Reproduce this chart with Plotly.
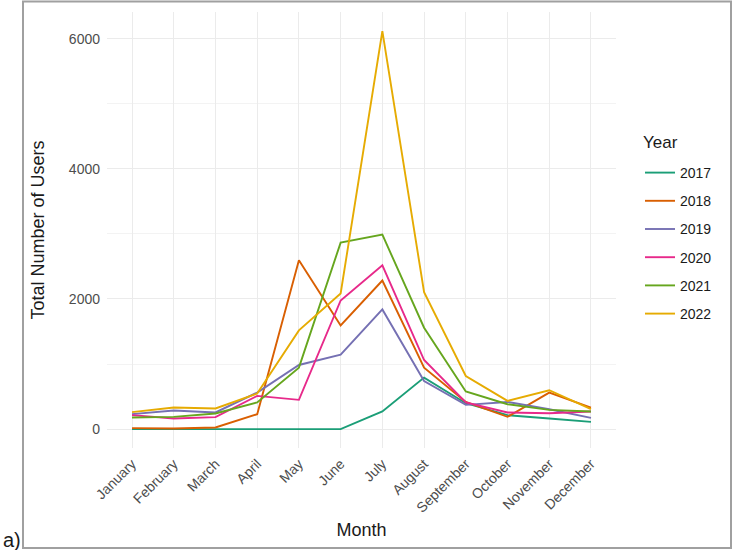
import plotly.graph_objects as go

months = ["January", "February", "March", "April", "May", "June", "July",
          "August", "September", "October", "November", "December"]
years = ["2017", "2018", "2019", "2020", "2021", "2022"]

users_2017 = [0, 0, 0, 0, 0, 0, 271, 792, 398, 215, 164, 112]
users_2018 = [15, 10, 26, 230, 2595, 1594, 2284, 945, 418, 189, 562, 332]
users_2019 = [230, 286, 256, 562, 986, 1145, 1839, 740, 373, 418, 306, 174]
users_2020 = [215, 164, 184, 511, 450, 1977, 2518, 1062, 409, 256, 245, 271]
users_2021 = [179, 189, 240, 409, 945, 2866, 2989, 1558, 578, 383, 296, 271]
users_2022 = [261, 332, 317, 547, 1517, 2084, 6115, 2104, 817, 434, 598, 306]

series = [users_2017, users_2018, users_2019, users_2020, users_2021, users_2022]
colors = ["#1B9E77", "#D95F02", "#7570B3", "#E7298A", "#66A61E", "#E6AB02"]

fig = go.Figure()
for yr, vals, col in zip(years, series, colors):
    fig.add_trace(go.Scatter(
        x=months, y=vals, mode="lines", name=yr,
        line=dict(color=col, width=1.9),
        legendgroup=yr,
    ))

# plot area in pixels
L, R, T, B = 107, 616, 12, 448
W, H = R - L, B - T

def px(xp):
    return (xp - L) / W

def py(yp):
    return (B - yp) / H

fig.update_layout(
    width=733, height=550,
    margin=dict(l=L, r=733 - R, t=T, b=550 - B),
    paper_bgcolor="white", plot_bgcolor="white",
    font=dict(family="Liberation Sans, Arial, sans-serif", color="#1a1a1a"),
    showlegend=True,
    legend=dict(
        x=px(640), y=py(157), xanchor="left", yanchor="top",
        font=dict(size=14, color="#1a1a1a"),
        tracegroupgap=7,
        itemwidth=30,
        bgcolor="rgba(0,0,0,0)",
    ),
    xaxis=dict(
        categoryorder="array", categoryarray=months,
        range=[-0.6, 11.6],
        showgrid=True, gridcolor="#EBEBEB", gridwidth=1.2,
        zeroline=False, showline=False, ticks="",
        tickangle=-45,
        ticklabelstandoff=4,
        tickfont=dict(size=14, color="#4D4D4D"),
        title=dict(text="Month", font=dict(size=18, color="#1a1a1a"), standoff=8),
    ),
    yaxis=dict(
        range=[-290, 6410],
        tickvals=[0, 2000, 4000, 6000],
        tickformat="d",
        showgrid=True, gridcolor="#EBEBEB", gridwidth=1.2,
        minor=dict(tickvals=[1000, 3000, 5000], showgrid=True,
                   gridcolor="#F3F3F3", gridwidth=0.7),
        zeroline=False, showline=False, ticks="",
        ticklabelstandoff=6,
        tickfont=dict(size=14, color="#4D4D4D"),
        title=dict(text="Total Number of Users", font=dict(size=18, color="#1a1a1a"), standoff=19),
    ),
    shapes=[dict(
        type="rect", xref="paper", yref="paper",
        x0=px(23), x1=px(731), y0=py(548), y1=py(1.5),
        line=dict(color="#A0A0A0", width=2), fillcolor="rgba(0,0,0,0)",
        layer="below",
    )],
    annotations=[
        dict(
            text="a)", xref="paper", yref="paper",
            x=px(0.5), y=py(540), xanchor="left", yanchor="middle",
            showarrow=False, font=dict(size=20, color="#1a1a1a"),
        ),
        dict(
            text="Year", xref="paper", yref="paper",
            x=px(641), y=py(142), xanchor="left", yanchor="middle",
            showarrow=False, font=dict(size=17, color="#1a1a1a"),
        ),
    ],
)

fig.write_html("out.html")
